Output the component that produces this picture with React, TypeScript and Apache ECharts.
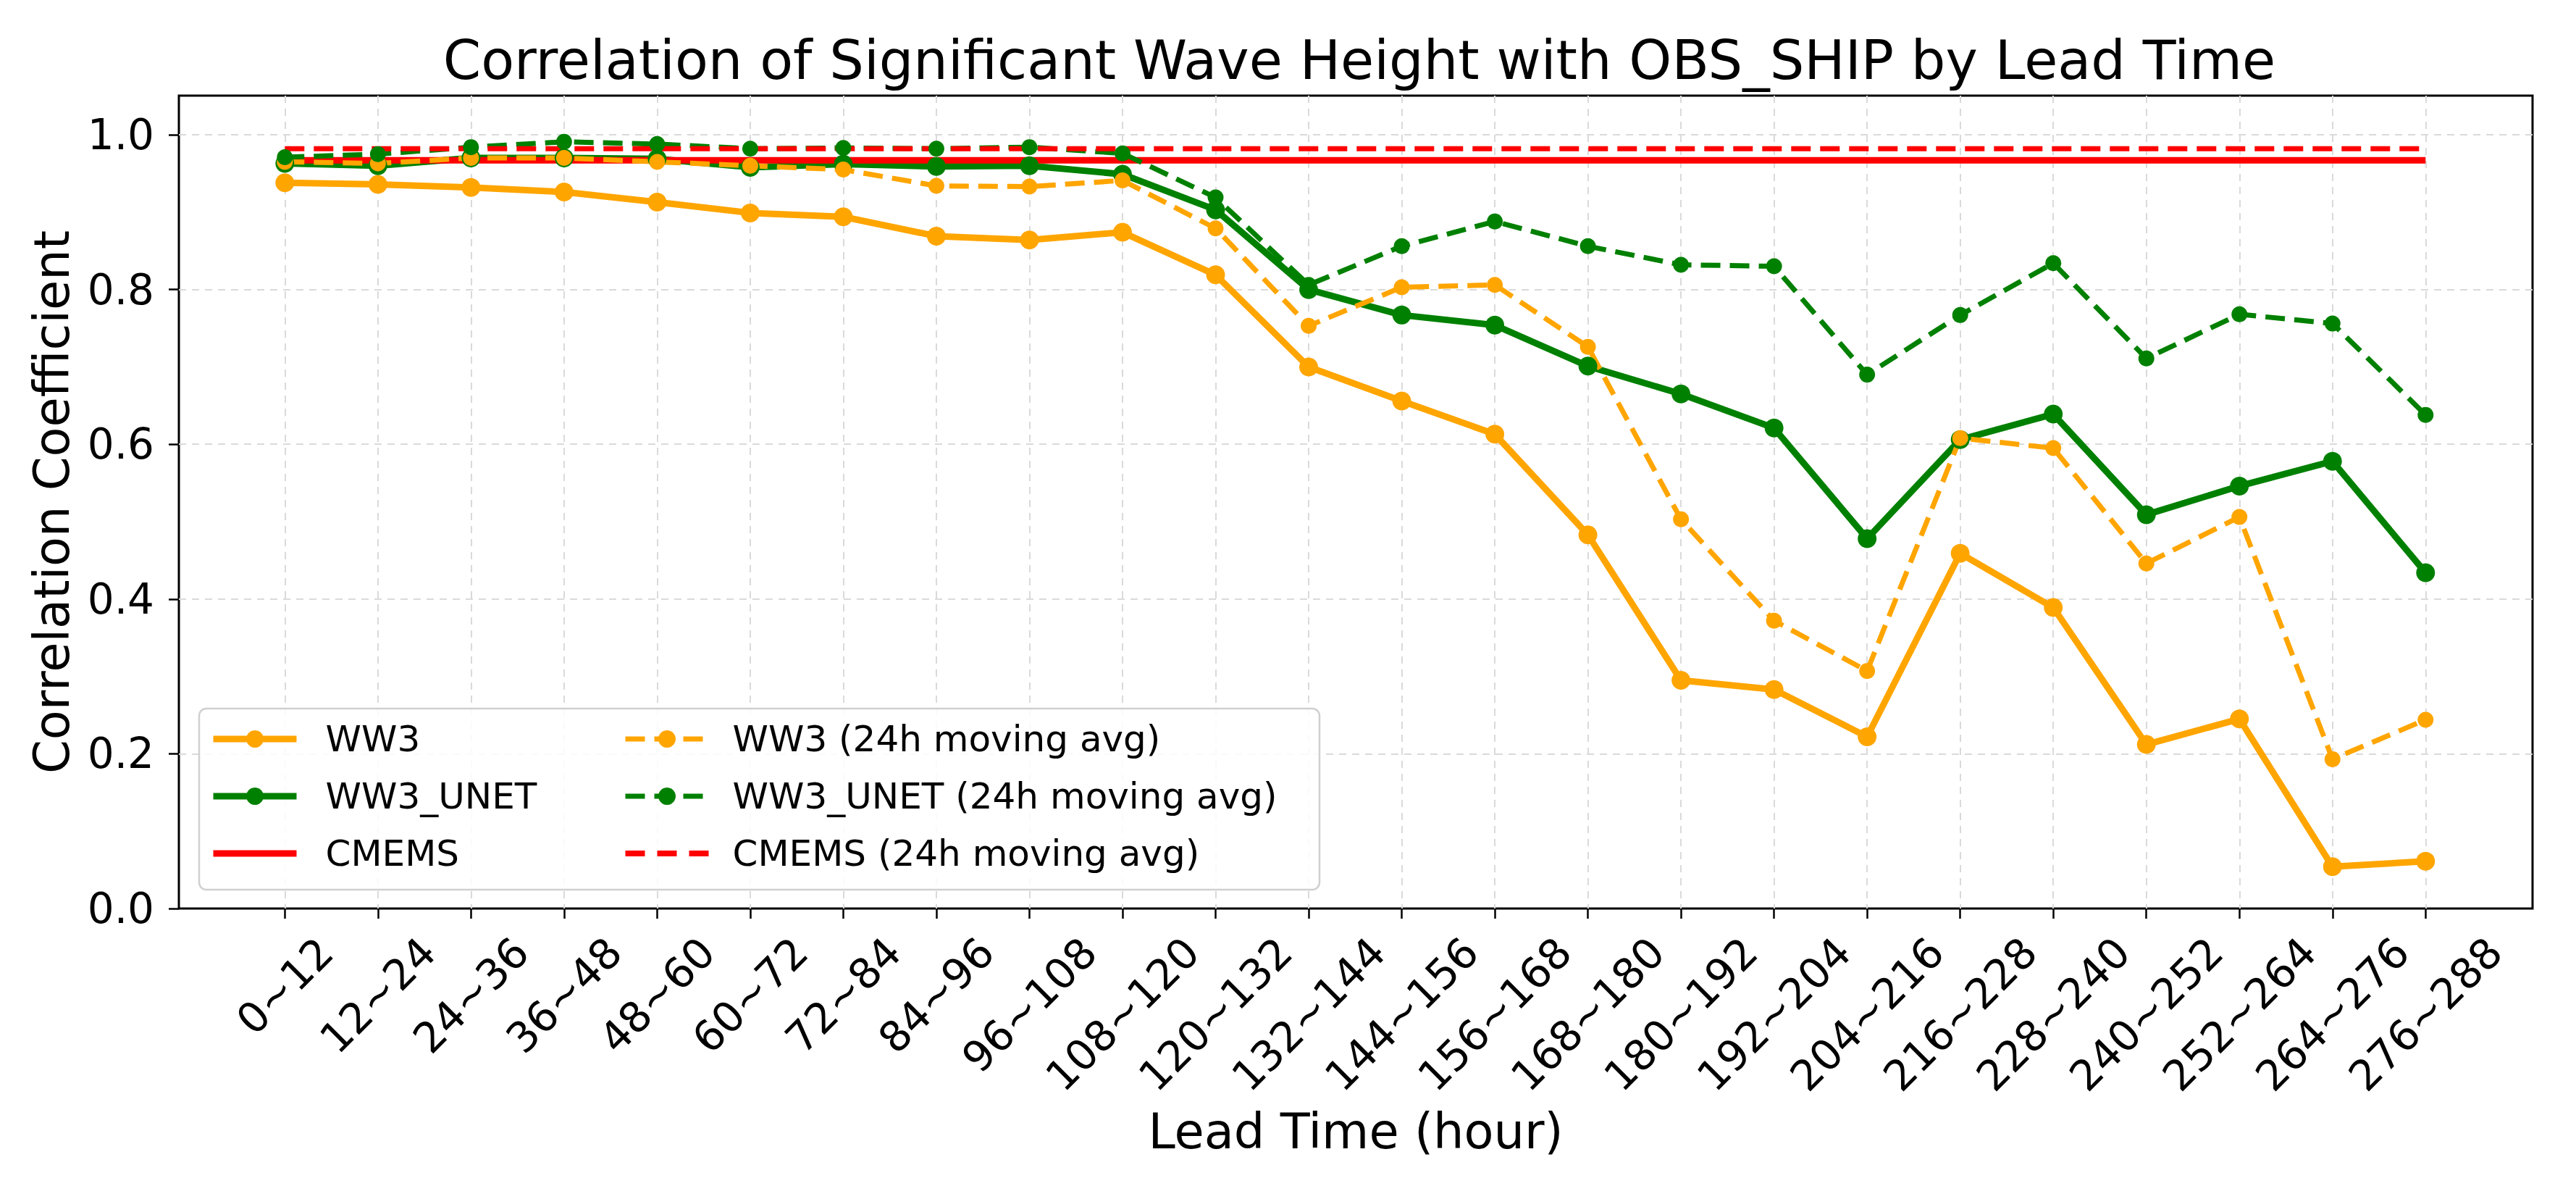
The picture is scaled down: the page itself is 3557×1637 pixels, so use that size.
import React, { useEffect, useRef } from "react";
import * as echarts from "echarts";

const categories = [
  "0~12", "12~24", "24~36", "36~48", "48~60", "60~72", "72~84", "84~96",
  "96~108", "108~120", "120~132", "132~144", "144~156", "156~168", "168~180",
  "180~192", "192~204", "204~216", "216~228", "228~240", "240~252", "252~264",
  "264~276", "276~288",
];

const ww3 = [
  0.938, 0.936, 0.932, 0.926, 0.913, 0.899, 0.894, 0.869, 0.864, 0.874, 0.819,
  0.700, 0.656, 0.613, 0.483, 0.295, 0.283, 0.222, 0.459, 0.389, 0.212, 0.245,
  0.054, 0.061,
];
const ww3Unet = [
  0.963, 0.960, 0.970, 0.970, 0.969, 0.958, 0.962, 0.959, 0.960, 0.949, 0.903,
  0.800, 0.767, 0.754, 0.701, 0.665, 0.621, 0.478, 0.606, 0.639, 0.509, 0.546,
  0.578, 0.434,
];
const cmems = [
  0.967, 0.967, 0.967, 0.967, 0.967, 0.967, 0.967, 0.967, 0.967, 0.967, 0.967,
  0.967, 0.967, 0.967, 0.967, 0.967, 0.967, 0.967, 0.967, 0.967, 0.967, 0.967,
  0.967, 0.967,
];
const ww3Avg = [
  0.965, 0.963, 0.970, 0.970, 0.965, 0.960, 0.955, 0.934, 0.933, 0.941, 0.879,
  0.753, 0.803, 0.806, 0.726, 0.503, 0.372, 0.307, 0.608, 0.595, 0.446, 0.506,
  0.193, 0.244,
];
const ww3UnetAvg = [
  0.971, 0.975, 0.984, 0.991, 0.988, 0.982, 0.983, 0.982, 0.984, 0.976, 0.919,
  0.806, 0.856, 0.888, 0.856, 0.832, 0.830, 0.690, 0.767, 0.834, 0.711, 0.768,
  0.756, 0.638,
];
const cmemsAvg = [
  0.982, 0.982, 0.982, 0.982, 0.982, 0.982, 0.982, 0.982, 0.982, 0.982, 0.982,
  0.982, 0.982, 0.982, 0.982, 0.982, 0.982, 0.982, 0.982, 0.982, 0.982, 0.982,
  0.982, 0.982,
];

const yTickValues = [0, 0.2, 0.4, 0.6, 0.8, 1.0];
const Y_MIN = 0;
const Y_MAX = 1.0506;
const Y_INTERVAL = 0.2;

const W = 3557;
const H = 1637;
const PLOT_LEFT = 247;
const PLOT_RIGHT = 3497;
const PLOT_TOP = 132;
const PLOT_BOTTOM = 1254;
const FIRST_X = 393.3;
const LAST_X = 3349.3;
const FONT = "DejaVu Sans";
const TICK_FS = 58;

const ORANGE = "#FFA500";
const GREEN = "#008000";
const RED = "#FF0000";

export default function App() {
  const ref = useRef<HTMLDivElement>(null);

  useEffect(() => {
    if (!ref.current) return;
    const chart = echarts.init(ref.current, undefined, { renderer: "svg" });

    const canvas = document.createElement("canvas");
    const ctx = canvas.getContext("2d")!;
    ctx.font = `${TICK_FS}px "${FONT}"`;
    const rich: Record<string, any> = {};
    categories.forEach((c, i) => {
      const w = ctx.measureText(c).width;
      const P = Math.round((w + TICK_FS) / 2);
      rich["r" + i] = {
        fontSize: TICK_FS,
        fontFamily: FONT,
        color: "#000",
        padding: [P, P, 0, 0],
      };
    });

    const gridLine = { color: "#dadada", width: 2, type: [10, 8] as any };

    const mk = (name: string, data: number[], color: string, dashed: boolean, sym: boolean) => ({
      type: "line",
      name,
      data,
      xAxisIndex: 1,
      yAxisIndex: 1,
      symbol: sym ? "circle" : "none",
      showSymbol: sym,
      symbolSize: dashed ? 22 : 26,
      lineStyle: { color, width: dashed ? 7 : 9, type: dashed ? [27, 13] : "solid" },
      itemStyle: { color },
      emphasis: { disabled: true },
      silent: true,
    });

    const legendText = (pad: number) => ({
      fontSize: 50,
      fontFamily: FONT,
      color: "#000",
      padding: [0, 0, 0, pad],
    });

    const legendCommon = {
      orient: "vertical",
      top: 995,
      padding: 0,
      itemWidth: 115,
      itemHeight: 30,
      itemGap: 29,
      z: 20,
      lineStyle: { width: "inherit" },
      selectedMode: false,
    };

    chart.setOption({
      animation: false,
      backgroundColor: "#fff",
      title: {
        text: "Correlation of Significant Wave Height with OBS_SHIP by Lead Time",
        left: (PLOT_LEFT + PLOT_RIGHT) / 2,
        textAlign: "center",
        top: 40,
        textStyle: { fontSize: 75, fontFamily: FONT, fontWeight: "normal", color: "#000" },
      },
      grid: [
        {
          left: PLOT_LEFT,
          right: W - PLOT_RIGHT,
          top: PLOT_TOP,
          bottom: H - PLOT_BOTTOM,
          show: true,
          borderColor: "#000",
          borderWidth: 3,
          backgroundColor: "transparent",
        },
        {
          left: FIRST_X,
          right: W - LAST_X,
          top: PLOT_TOP,
          bottom: H - PLOT_BOTTOM,
        },
      ],
      xAxis: [
        {
          gridIndex: 0,
          type: "value",
          min: 0,
          max: 1,
          axisLine: { show: false },
          axisTick: { show: false },
          axisLabel: { show: false },
          splitLine: { show: false },
          name: "Lead Time (hour)",
          nameLocation: "middle",
          nameGap: 274,
          nameTextStyle: { fontSize: 67, fontFamily: FONT, color: "#000" },
        },
        {
          gridIndex: 1,
          type: "category",
          data: categories,
          boundaryGap: false,
          axisLine: { show: false },
          axisTick: { show: true, length: 14, lineStyle: { color: "#000", width: 2.5 } },
          splitLine: { show: true, lineStyle: gridLine },
          axisLabel: {
            interval: 0,
            rotate: 45,
            align: "center",
            verticalAlign: "middle",
            margin: 30,
            hideOverlap: false,
            fontSize: TICK_FS,
            fontFamily: FONT,
            color: "#000",
            formatter: (v: string, i: number) => `{r${i}|${v}}`,
            rich,
          },
        },
      ],
      yAxis: [
        {
          gridIndex: 0,
          type: "value",
          min: Y_MIN,
          max: Y_MAX,
          interval: Y_INTERVAL,
          axisLine: { show: false },
          axisTick: {
            show: true,
            length: 14,
            customValues: yTickValues,
            lineStyle: { color: "#000", width: 2.5 },
          },
          axisLabel: {
            fontSize: TICK_FS,
            fontFamily: FONT,
            color: "#000",
            margin: 34,
            customValues: yTickValues,
            formatter: (v: number) => v.toFixed(1),
          },
          splitLine: { show: true, showMinLine: false, lineStyle: gridLine },
          name: "Correlation Coefficient",
          nameLocation: "middle",
          nameGap: 142,
          nameTextStyle: { fontSize: 67, fontFamily: FONT, color: "#000" },
        },
        {
          gridIndex: 1,
          type: "value",
          min: Y_MIN,
          max: Y_MAX,
          show: false,
          splitLine: { show: false },
        },
      ],
      legend: [
        {
          ...legendCommon,
          left: 290,
          data: [
            { name: "WW3" },
            { name: "WW3_UNET" },
            { name: "CMEMS", icon: "path://M0,0H115V9H0Z" },
          ],
          textStyle: legendText(35),
        },
        {
          ...legendCommon,
          left: 860,
          data: [
            { name: "WW3 (24h moving avg)" },
            { name: "WW3_UNET (24h moving avg)" },
            {
              name: "CMEMS (24h moving avg)",
              icon: "path://M0,0H27V8H0Z M44,0H71V8H44Z M88,0H115V8H88Z",
            },
          ],
          textStyle: legendText(28),
        },
      ],
      graphic: [
        {
          type: "rect",
          z: 10,
          shape: { x: 275, y: 978, width: 1547, height: 250, r: 10 },
          style: { fill: "rgba(255,255,255,0.85)", stroke: "#d0d0d0", lineWidth: 2.5 },
          silent: true,
        },
      ],
      series: [
        mk("WW3", ww3, ORANGE, false, true),
        mk("WW3_UNET", ww3Unet, GREEN, false, true),
        mk("CMEMS", cmems, RED, false, false),
        mk("WW3 (24h moving avg)", ww3Avg, ORANGE, true, true),
        mk("WW3_UNET (24h moving avg)", ww3UnetAvg, GREEN, true, true),
        mk("CMEMS (24h moving avg)", cmemsAvg, RED, true, false),
      ],
    });

    return () => chart.dispose();
  }, []);

  return (
    <div
      ref={ref}
      style={{ position: "fixed", left: 0, top: 0, width: W, height: H, background: "#fff" }}
    />
  );
}
